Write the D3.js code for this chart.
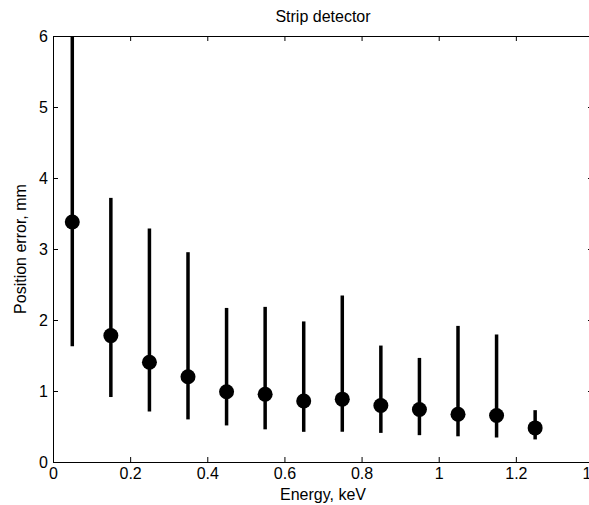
<!DOCTYPE html>
<html><head>
<meta charset="utf-8">
<script src="https://d3js.org/d3.v7.min.js"></script>
<style>
  body { margin: 0; background: #fff; }
  svg text { font-family: "Liberation Sans", Arial, sans-serif; fill: #000; }
</style>
</head>
<body>
<div id="chart"></div>
<script>
// energy bins (keV) and position error (mm) with error bar limits
var energy = [0.05, 0.15, 0.25, 0.35, 0.45, 0.55, 0.65, 0.75, 0.85, 0.95, 1.05, 1.15, 1.25];
var posError = [3.38, 1.78, 1.405, 1.20, 0.99, 0.955, 0.86, 0.885, 0.795, 0.74, 0.672, 0.655, 0.48];
var errLow = [1.63, 0.915, 0.71, 0.60, 0.515, 0.46, 0.425, 0.425, 0.41, 0.378, 0.362, 0.345, 0.318];
var errHigh = [6.5, 3.72, 3.29, 2.955, 2.17, 2.185, 1.98, 2.345, 1.64, 1.466, 1.917, 1.796, 0.73];
var xTicks = [0, 0.2, 0.4, 0.6, 0.8, 1, 1.2, 1.4];
var yTicks = [0, 1, 2, 3, 4, 5, 6];

var W = 589, H = 505;
var margin = {top: 36, right: -4, bottom: 43, left: 53};
var width = W - margin.left - margin.right;
var height = H - margin.top - margin.bottom;

var svg = d3.select("#chart").append("svg")
    .attr("width", W)
    .attr("height", H);

var g = svg.append("g")
    .attr("transform", "translate(" + margin.left + "," + margin.top + ")");

var x = d3.scaleLinear().domain([0, 1.4]).range([0, width]);
var y = d3.scaleLinear().domain([0, 6]).range([height, 0]);

svg.append("defs").append("clipPath").attr("id", "plotclip")
  .append("rect").attr("width", width).attr("height", height);

// axes with inward ticks on all four sides (matlab box)
var tl = 5;
var fmt = function(d) { return String(+d.toFixed(1)); };
g.append("g")
    .attr("transform", "translate(0," + height + ")")
    .call(d3.axisBottom(x).tickValues(xTicks).tickSizeInner(-tl).tickSizeOuter(0).tickPadding(6).tickFormat(fmt));
g.append("g")
    .call(d3.axisTop(x).tickValues(xTicks).tickSizeInner(-tl).tickSizeOuter(0).tickFormat(""));
g.append("g")
    .call(d3.axisLeft(y).tickValues(yTicks).tickSizeInner(-tl).tickSizeOuter(0).tickPadding(5).tickFormat(fmt));
g.append("g")
    .attr("transform", "translate(" + width + ",0)")
    .call(d3.axisRight(y).tickValues(yTicks).tickSizeInner(-tl).tickSizeOuter(0).tickFormat(""));

g.selectAll(".domain").attr("stroke", "#000").attr("stroke-width", 1);
g.selectAll(".tick line").attr("stroke", "#000");
g.selectAll(".tick text").style("font-size", "16px");

var plot = g.append("g").attr("clip-path", "url(#plotclip)");

// error bars
plot.selectAll("line.err")
  .data(energy)
  .enter().append("line")
    .attr("class", "err")
    .attr("x1", function(d) { return x(d); })
    .attr("x2", function(d) { return x(d); })
    .attr("y1", function(d, i) { return y(errLow[i]); })
    .attr("y2", function(d, i) { return y(errHigh[i]); })
    .attr("stroke", "#000")
    .attr("stroke-width", 3.5);

// markers
plot.selectAll("circle")
  .data(energy)
  .enter().append("circle")
    .attr("cx", function(d) { return x(d); })
    .attr("cy", function(d, i) { return y(posError[i]); })
    .attr("r", 7.5)
    .attr("fill", "#000");

svg.append("text")
    .attr("x", margin.left + width / 2)
    .attr("y", 22)
    .attr("text-anchor", "middle")
    .style("font-size", "16px")
    .text("Strip detector");

svg.append("text")
    .attr("x", margin.left + width / 2)
    .attr("y", 500)
    .attr("text-anchor", "middle")
    .style("font-size", "16px")
    .text("Energy, keV");

svg.append("text")
    .attr("transform", "translate(26," + (margin.top + height / 2) + ") rotate(-90)")
    .attr("text-anchor", "middle")
    .style("font-size", "16px")
    .text("Position error, mm");
</script>
</body></html>
